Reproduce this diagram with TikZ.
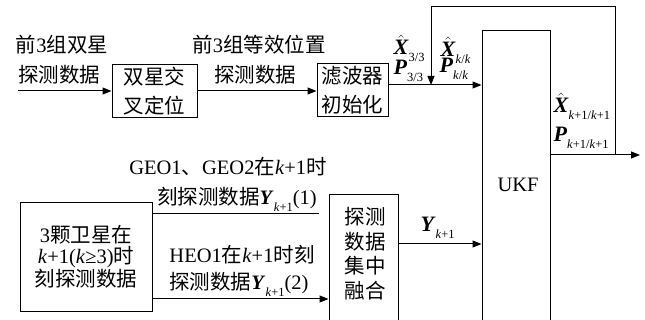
\documentclass[tikz,border=0pt]{standalone}
\usepackage{fontspec}
\setmainfont{Liberation Serif}
\newfontfamily\cjk{Noto Sans CJK SC}
\usetikzlibrary{arrows.meta}
\newcommand\zh[1]{{\cjk #1}}
\newcommand\bi[1]{\textbf{\textit{#1}}}
\newcommand\Xh{$\hat{\mbox{\bi{X}}}$}
\newcommand\sbx[1]{\raisebox{-7pt}{\fontsize{12.5}{12.5}\selectfont #1}}
\newcommand\ki{\textit{k}}
\begin{document}
\begin{tikzpicture}[x=1pt,y=-1pt,line width=1pt,
  >={Triangle[length=9pt,width=7pt]},
  lbl/.style={inner sep=0pt,font=\fontsize{20.5}{29}\selectfont,align=center},
  tl/.style={lbl,anchor=base},
  ml/.style={inner sep=0pt,font=\fontsize{22}{22}\selectfont,anchor=base west},
  box/.style={lbl,draw}]
\useasboundingbox (0,0) rectangle (645,320);
% top texts
\node[tl] (t1a) at (62,53) {\zh{前}3\zh{组双星}};
\node[tl] (t1b) at (59,83) {\zh{探测数据}};
\node[tl] (t2a) at (259,53) {\zh{前}3\zh{组等效位置}};
\node[tl] (t2b) at (255,83) {\zh{探测数据}};
% boxes
\node[box,minimum width=85,minimum height=53] (b1) at (154.5,91.5) {\zh{双星交}\\\zh{叉定位}};
\node[box,minimum width=71,minimum height=53] (flt) at (352.5,90.5) {\zh{滤波器}\\\zh{初始化}};
\node[box,minimum width=68,minimum height=300,anchor=north] (ukf) at (516,30) {};
\node[lbl] (ukft) at (518,185) {UKF};
\node[box,minimum width=132,minimum height=108,font=\fontsize{20.5}{21}\selectfont] (b3) at (86,257)
  {3\zh{颗卫星在}\\\ki+1(\ki≥3)\zh{时}\\\zh{刻探测数据}};
\node[box,minimum width=69,minimum height=140,anchor=north] (fus) at (363.5,194) {};
\node[lbl,font=\fontsize{20.5}{24.5}\selectfont] (fust) at (365,253.5) {\zh{探测}\\\zh{数据}\\\zh{集中}\\\zh{融合}};
% top connectors
\coordinate (in) at (18,91);
\draw[->] (in) -- (b1.west |- in);
\draw[->] (b1.east |- in) -- (flt.west |- in);
\coordinate (j) at (431,85);
\draw[->] (flt.east |- j) -- (ukf.west |- j);
\coordinate (fb) at (615,155);
\coordinate (out) at (640,155);
\coordinate (c1) at (615,7);
\coordinate (c2) at (431,7);
\draw[->] (ukf.east |- out) -- (out);
\draw[->] (fb) -- (c1) -- (c2) -- (j);
% math labels
\node[ml] (x33) at (393,55) {\Xh\sbx{3/3}};
\node[ml] (p33) at (393,75) {\bi{P}\sbx{3/3}};
\node[ml] (xkk) at (440,57) {\Xh\sbx{\ki/\ki}};
\node[ml] (pkk) at (439,73) {\bi{P}\sbx{\ki/\ki}};
\node[ml] (xk1) at (553,113) {\Xh\sbx{\ki+1/\ki+1}};
\node[ml] (pk1) at (553,142) {\bi{P}\sbx{\ki+1/\ki+1}};
% lower part
\coordinate (u2) at (319,214);
\draw (b3.east |- u2) -- (u2);
\coordinate (l2) at (0,299);
\draw[->] (b3.east |- l2) -- (fus.west |- l2);
\node[tl] (geo1) at (228,175) {GEO1\zh{、}GEO2\zh{在}\ki+1\zh{时}};
\node[tl] (geo2) at (237,205) {\zh{刻探测数据}\bi{Y}\sbx{\ki+1}(1)};
\node[tl] (heo1) at (242,263) {HEO1\zh{在}\ki+1\zh{时刻}};
\node[tl] (heo2) at (239,290) {\zh{探测数据}\bi{Y}\sbx{\ki+1}(2)};
\coordinate (y) at (0,244);
\draw[->] (fus.east |- y) -- (ukf.west |- y);
\node[ml] (yk1) at (420,232) {\bi{Y}\sbx{\ki+1}};
\end{tikzpicture}
\end{document}
